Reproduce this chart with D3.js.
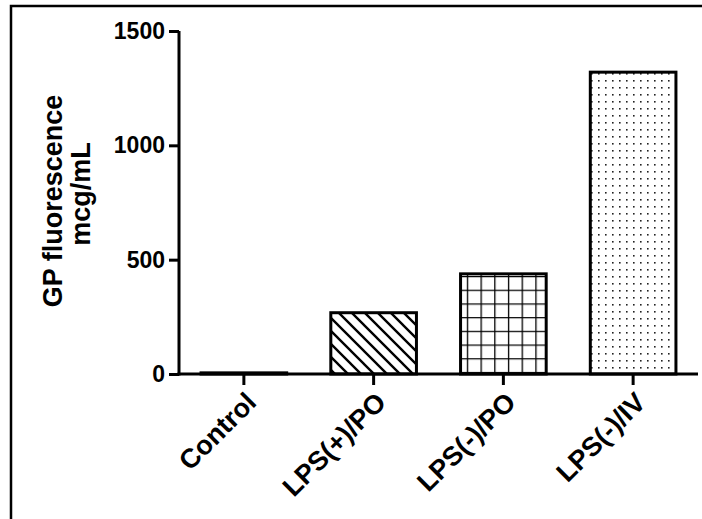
<!DOCTYPE html>
<html>
<head>
<meta charset="utf-8">
<script src="https://cdn.jsdelivr.net/npm/d3@7"></script>
<style>
  body { margin: 0; background: #fff; }
  svg { display: block; }
  text { font-family: "Liberation Sans", Arial, sans-serif; font-weight: bold; fill: #000; }
</style>
</head>
<body>
<svg></svg>
<script>
// chart data
const groups = ["Control", "LPS(+)/PO", "LPS(-)/PO", "LPS(-)/IV"];
const values = [5, 268, 438, 1320];
const patterns = ["none", "diag", "grid", "dots"];
const yTicks = [0, 500, 1000, 1500];

const width = 702, height = 519;
const x0 = 179, x1 = 698, yBase = 374, yTop = 31;

let svg = d3.select("svg")
    .attr("width", width)
    .attr("height", height);

// pattern fills
let defs = svg.append("defs");

let diag = defs.append("pattern")
    .attr("id", "diag")
    .attr("patternUnits", "userSpaceOnUse")
    .attr("width", 13).attr("height", 13);
diag.append("path")
    .attr("d", "M-2,-2 L15,15 M-2,11 L2,15 M11,-2 L15,2")
    .attr("stroke", "#000").attr("stroke-width", 2.4);

let grid = defs.append("pattern")
    .attr("id", "grid")
    .attr("patternUnits", "userSpaceOnUse")
    .attr("width", 13.7).attr("height", 13.7)
    .attr("x", 1).attr("y", 2);
grid.append("path")
    .attr("d", "M0,0 L0,13.7 M0,0 L13.7,0")
    .attr("stroke", "#000").attr("stroke-width", 2.6)
    .attr("fill", "none");

let dots = defs.append("pattern")
    .attr("id", "dots")
    .attr("patternUnits", "userSpaceOnUse")
    .attr("width", 7).attr("height", 7);
dots.append("rect")
    .attr("x", 3).attr("y", 3).attr("width", 1.6).attr("height", 1.6)
    .attr("fill", "#222");

// outer frame (only left and top edges visible)
svg.append("rect")
    .attr("x", 11).attr("y", 6)
    .attr("width", 720).attr("height", 540)
    .attr("fill", "none")
    .attr("stroke", "#000")
    .attr("stroke-width", 2.5);

// scales
let scaleX = d3.scaleBand()
    .domain(groups)
    .range([x0, x1])
    .paddingInner(0.34)
    .paddingOuter(0.17);

let scaleY = d3.scaleLinear()
    .domain([0, 1500])
    .range([yBase, yTop]);

// bars
svg.append("g")
    .selectAll("rect")
    .data(groups)
    .enter()
    .append("rect")
    .attr("x", d => scaleX(d))
    .attr("width", scaleX.bandwidth())
    .attr("y", (d, i) => scaleY(values[i]))
    .attr("height", (d, i) => scaleY(0) - scaleY(values[i]))
    .attr("fill", (d, i) => patterns[i] === "none" ? "#fff" : "url(#" + patterns[i] + ")")
    .attr("stroke", "#000")
    .attr("stroke-width", 3);

// y axis
let yAxis = svg.append("g")
    .attr("transform", "translate(" + x0 + ",0)")
    .call(d3.axisLeft(scaleY).tickValues(yTicks).tickFormat(d3.format("d")).tickSize(10).tickPadding(4));
yAxis.select(".domain").attr("d", "M0," + yTop + "V" + (yBase + 1.5))
    .attr("stroke-width", 3);
yAxis.selectAll(".tick line").attr("stroke-width", 3);
yAxis.selectAll(".tick text")
    .attr("font-size", 23)
    .attr("font-family", "Liberation Sans, Arial, sans-serif")
    .attr("font-weight", "bold");

// x axis
let xAxis = svg.append("g")
    .attr("transform", "translate(0," + yBase + ")")
    .call(d3.axisBottom(scaleX).tickSize(11).tickFormat(""));
xAxis.select(".domain").attr("d", "M" + (x0 - 1.5) + ",0H" + x1)
    .attr("stroke-width", 3);
xAxis.selectAll(".tick line").attr("stroke-width", 3);

// rotated category labels
svg.append("g")
    .selectAll("text")
    .data(groups)
    .enter()
    .append("text")
    .attr("transform", d => "translate(" + (scaleX(d) + scaleX.bandwidth() / 2 + 14) + "," + 404 + ") rotate(-45)")
    .attr("text-anchor", "end")
    .attr("font-size", 27)
    .text(d => d);

// y axis title
svg.append("text")
    .attr("transform", "translate(62,201) rotate(-90)")
    .attr("text-anchor", "middle")
    .attr("font-size", 27)
    .text("GP fluorescence");
svg.append("text")
    .attr("transform", "translate(90,194) rotate(-90)")
    .attr("text-anchor", "middle")
    .attr("font-size", 27)
    .text("mcg/mL");
</script>
</body>
</html>
